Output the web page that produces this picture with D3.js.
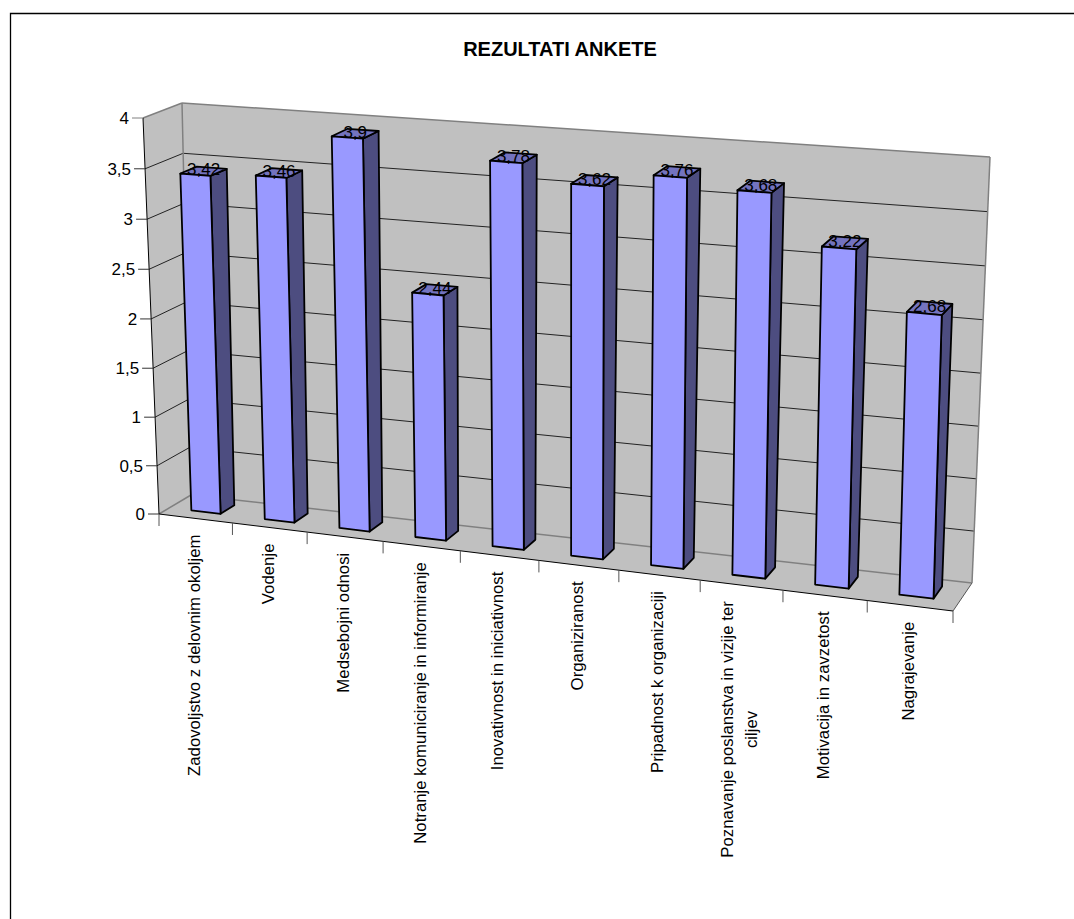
<!DOCTYPE html>
<html>
<head>
<meta charset="utf-8">
<style>
html,body{margin:0;padding:0;background:#fff}
svg{display:block}
text{font-family:"Liberation Sans",Arial,sans-serif;fill:#000}
</style>
<script src="https://cdn.jsdelivr.net/npm/d3@7/dist/d3.min.js"></script>
</head>
<body>
<svg id="chart" width="1074" height="919"></svg>
<script>
const title = "REZULTATI ANKETE";
const categories = [
  "Zadovoljstvo z delovnim okoljem",
  "Vodenje",
  "Medsebojni odnosi",
  "Notranje komuniciranje in informiranje",
  "Inovativnost in iniciativnost",
  "Organiziranost",
  "Pripadnost k organizaciji",
  "Poznavanje poslanstva in vizije ter|ciljev",
  "Motivacija in zavzetost",
  "Nagrajevanje"
];
const scores = [3.42, 3.46, 3.9, 2.44, 3.78, 3.62, 3.76, 3.68, 3.22, 2.68];
const yTicks = [0, 0.5, 1, 1.5, 2, 2.5, 3, 3.5, 4];

const comma = v => String(v).replace(".", ",");
const labelSize = 17;
const categorySize = 16.8;

// Box corners of the 3D plot, [x, y] on screen.
// Naming: front/back, left/right, bottom/top.
const box = {
  flb: [159, 514], frb: [953, 611], flt: [143, 118], frt: [964, 181],
  blb: [191, 495], brb: [972, 583], blt: [182, 103], brt: [990, 157]
};

const lerp = (a, b, t) => [a[0] + (b[0] - a[0]) * t, a[1] + (b[1] - a[1]) * t];

// Perspective foreshortening of a 0..1 coordinate
const warp = (t, r) => t / (r + (1 - r) * t);

// u across the categories, v up the value axis, w into the depth: all 0..1
function project(u, v, w) {
  const uu = warp(u, 1.09), vv = warp(v, 1.03);
  const fb = lerp(box.flb, box.frb, uu), ft = lerp(box.flt, box.frt, uu);
  const bb = lerp(box.blb, box.brb, uu), bt = lerp(box.blt, box.brt, uu);
  return lerp(lerp(fb, ft, vv), lerp(bb, bt, vv), w);
}

const xBand = d3.scaleBand().domain(d3.range(categories.length)).range([0, 1]);
const yVal = d3.scaleLinear().domain([0, 4]).range([0, 1]);
const zDepth = d3.scaleLinear().domain([0, 1]).range([0.33, 0.77]);
const barHalf = 0.2;

const svg = d3.select("#chart");
const poly = pts => "M" + pts.map(p => p.join(",")).join("L") + "Z";

// Outer chart frame
svg.append("path").attr("d", "M10.5,919V13.5H1074").attr("fill", "none")
  .attr("stroke", "#000").attr("stroke-width", 1.3);

svg.append("text").attr("x", 560).attr("y", 56).attr("text-anchor", "middle")
  .attr("font-size", 20).attr("font-weight", "bold").text(title);

// Walls and floor
const wallGroup = svg.append("g");
wallGroup.append("path").attr("fill", "#c0c0c0")
  .attr("d", poly([project(0,0,0), project(0,1,0), project(0,1,1), project(0,0,1)]));
wallGroup.append("path").attr("fill", "#c0c0c0")
  .attr("d", poly([project(0,0,1), project(0,1,1), project(1,1,1), project(1,0,1)]));
wallGroup.append("path").attr("fill", "#c0c0c0")
  .attr("d", poly([project(0,0,0), project(1,0,0), project(1,0,1), project(0,0,1)]));

const seg = (g, a, b, stroke, width) => g.append("line")
  .attr("x1", a[0]).attr("y1", a[1]).attr("x2", b[0]).attr("y2", b[1])
  .attr("stroke", stroke).attr("stroke-width", width);

// Gridlines on both walls
yTicks.forEach(t => {
  const v = yVal(t);
  const edge = t === 0 || t === 4 ? "#808080" : "#222";
  const w = t === 0 || t === 4 ? 1.5 : 1;
  seg(wallGroup, project(0,v,0), project(0,v,1), edge, w);
  seg(wallGroup, project(0,v,1), project(1,v,1), edge, w);
});
seg(wallGroup, project(0,0,1), project(0,1,1), "#808080", 1.5);
seg(wallGroup, project(1,0,1), project(1,1,1), "#808080", 1.5);

// Value axis
const yAxis = svg.append("g");
seg(yAxis, project(0,0,0), project(0,1,0), "#000", 1);
yTicks.forEach(t => {
  const p = project(0, yVal(t), 0);
  seg(yAxis, [p[0] - 11, p[1]], p, t === 4 ? "#808080" : "#333", 1);
  yAxis.append("text").attr("x", p[0] - 14).attr("y", p[1] + 6)
    .attr("text-anchor", "end").attr("font-size", labelSize).text(comma(t));
});

// Category axis
const xAxis = svg.append("g");
seg(xAxis, project(0,0,0), project(1,0,0), "#000", 1);
seg(xAxis, project(1,0,0), project(1,0,1), "#555", 1);
d3.range(categories.length + 1).forEach(i => {
  const p = project(i / categories.length, 0, 0);
  seg(xAxis, p, [p[0], p[1] + 12], "#555", 1);
});

// Bars, drawn left to right so nearer faces stay on top
const bars = svg.append("g").selectAll("g").data(scores).join("g");
bars.each(function(value, i) {
  const g = d3.select(this);
  const c = xBand(i) + xBand.bandwidth() / 2;
  const u0 = c - xBand.bandwidth() * barHalf, u1 = c + xBand.bandwidth() * barHalf;
  const v = yVal(value), w0 = zDepth(0), w1 = zDepth(1);
  const face = (pts, fill) => g.append("path").attr("d", poly(pts)).attr("fill", fill)
    .attr("stroke", "#000").attr("stroke-width", 1.8).attr("stroke-linejoin", "round");
  face([project(u1,0,w0), project(u1,0,w1), project(u1,v,w1), project(u1,v,w0)], "#4d4d80");
  face([project(u0,v,w0), project(u1,v,w0), project(u1,v,w1), project(u0,v,w1)], "#7373bf");
  face([project(u0,0,w0), project(u1,0,w0), project(u1,v,w0), project(u0,v,w0)], "#9999ff");
});

// Value labels centred over each bar top
scores.forEach((value, i) => {
  const c = xBand(i) + xBand.bandwidth() / 2;
  const p = project(c, yVal(value), 0.55);
  svg.append("text").attr("x", p[0]).attr("y", p[1] + 4)
    .attr("text-anchor", "middle").attr("font-size", labelSize).text(comma(value));
});

// Rotated category labels; a wrapped label is centred on its longest line
categories.forEach((label, i) => {
  const c = xBand(i) + xBand.bandwidth() / 2;
  const p = project(c, 0, 0);
  const lines = label.split("|");
  const top = p[1] + 16;
  const lineGap = 24;
  const t = svg.append("text").attr("font-size", categorySize);
  const first = t.append("tspan").attr("x", 0).text(lines[0]);
  const len = first.node().getComputedTextLength();
  const baseX = p[0] + 4 - (lines.length - 1) * lineGap / 2;
  t.attr("transform", `translate(${baseX},${top + len / 2}) rotate(-90)`)
    .attr("text-anchor", "middle");
  lines.slice(1).forEach(line => {
    t.append("tspan").attr("x", 0).attr("dy", lineGap).text(line);
  });
});
</script>
</body>
</html>
